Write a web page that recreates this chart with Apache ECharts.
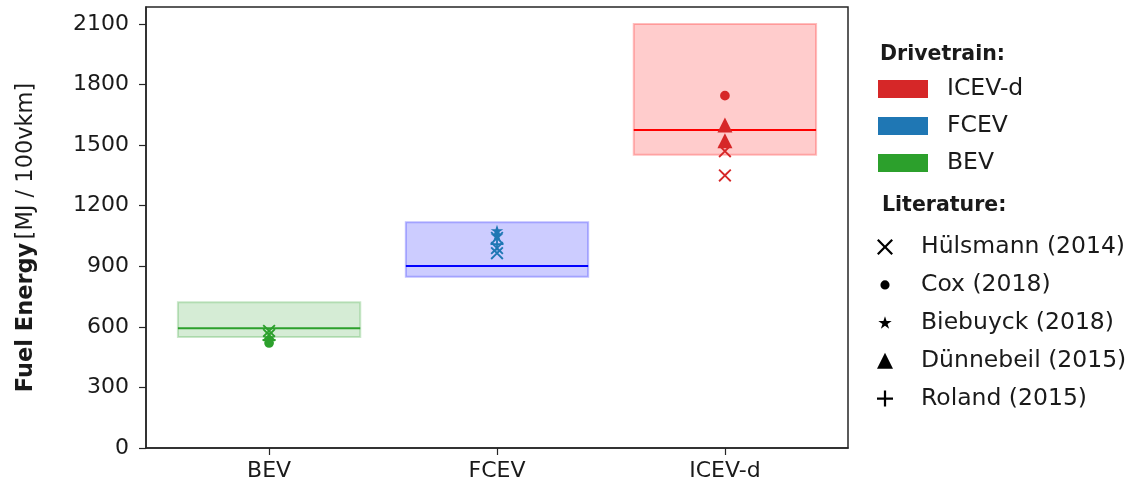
<!DOCTYPE html>
<html>
<head>
<meta charset="utf-8">
<script src="https://cdn.jsdelivr.net/npm/echarts@6/dist/echarts.min.js"></script>
<style>
  html, body { margin: 0; padding: 0; background: #fff; }
  #chart { width: 1139px; height: 490px; }
</style>
</head>
<body>
<div id="chart"></div>
<script>
// Drivetrains along the x axis
const categories = ['BEV', 'FCEV', 'ICEV-d'];
// Model range (low / high) and central estimate per drivetrain, MJ / 100vkm
const rangeLow = [550, 848, 1452];
const rangeHigh = [722, 1118, 2100];
const central = [593, 901, 1575];
// Literature values: [drivetrain index, MJ / 100vkm]
const huelsmann = [[0, 580], [0, 560], [1, 1040], [1, 990], [1, 965], [2, 1470], [2, 1350]];
const cox = [[0, 520], [2, 1745]];
const biebuyck = [[0, 545], [1, 1075], [1, 1050]];
const duennebeil = [[2, 1600], [2, 1522]];
const roland = [[0, 535], [1, 1010]];
const yTicks = [0, 300, 600, 900, 1200, 1500, 1800, 2100];

const FONT = 'DejaVu Sans';
const TEXT = '#1a1a1a';
const markColor = ['#2ca02c', '#1f77b4', '#d62728'];
const boxFill = ['rgba(44,160,44,0.2)', 'rgba(0,0,255,0.2)', 'rgba(255,0,0,0.2)'];
const boxEdge = ['rgba(44,160,44,0.25)', 'rgba(0,0,255,0.25)', 'rgba(255,0,0,0.25)'];
const lineColor = ['#2ca02c', '#0000ff', '#ff0000'];

// Marker shapes; the dot and star carry invisible corner points so they sit
// smaller inside their symbol box.
const SYM = {
  cross: 'path://M0,1 L1,0 L5,4 L9,0 L10,1 L6,5 L10,9 L9,10 L5,6 L1,10 L0,9 L4,5 Z',
  plus: 'path://M4.3,0 H5.7 V4.3 H10 V5.7 H5.7 V10 H4.3 V5.7 H0 V4.3 H4.3 Z',
  star: 'path://M0,0 L0.001,0 M12,12 L12.001,12 M6,1 L7.18,4.62 L11,4.62 L7.91,6.86 L9.09,10.5 L6,8.24 L2.91,10.5 L4.09,6.86 L1,4.62 L4.82,4.62 Z',
  dot: 'path://M0,0 L0.001,0 M14,14 L14.001,14 M7,3 A4,4 0 1,1 7,11 A4,4 0 1,1 7,3 Z'
};

function boxSeries(i) {
  return {
    name: categories[i],
    type: 'custom',
    z: 1,
    itemStyle: { color: markColor[i] },
    data: [[i, rangeLow[i], rangeHigh[i], central[i]]],
    renderItem: function (params, api) {
      const x = api.value(0);
      const p0 = api.coord([x - 0.4, api.value(2)]);
      const p1 = api.coord([x + 0.4, api.value(1)]);
      const m0 = api.coord([x - 0.4, api.value(3)]);
      const m1 = api.coord([x + 0.4, api.value(3)]);
      return {
        type: 'group',
        children: [
          { type: 'rect', shape: { x: p0[0], y: p0[1], width: p1[0] - p0[0], height: p1[1] - p0[1] },
            style: { fill: boxFill[i], stroke: boxEdge[i], lineWidth: 2 } },
          { type: 'line', shape: { x1: m0[0], y1: m0[1], x2: m1[0], y2: m1[1] },
            style: { stroke: lineColor[i], lineWidth: 2 } }
        ]
      };
    }
  };
}

function litSeries(name, pts, symbol, size) {
  return {
    name: name,
    type: 'scatter',
    z: 3,
    symbol: symbol,
    symbolSize: size,
    itemStyle: { color: '#000', opacity: 1 },
    data: pts.map(p => ({ value: p, itemStyle: { color: markColor[p[0]] } }))
  };
}

const chart = echarts.init(document.getElementById('chart'), null, { renderer: 'canvas' });
chart.setOption({
  animation: false,
  backgroundColor: '#fff',
  grid: { left: 146, right: 291, top: 7, bottom: 42, show: true, borderColor: '#262626', borderWidth: 1.5 },
  xAxis: {
    type: 'value', min: -0.54, max: 2.54,
    splitLine: { show: false },
    axisLine: { show: true, onZero: false, lineStyle: { color: '#262626', width: 1.5 } },
    axisTick: { show: true, customValues: [0, 1, 2], length: 7, lineStyle: { color: '#262626', width: 1.2 } },
    axisLabel: {
      customValues: [0, 1, 2], formatter: v => categories[Math.round(v)],
      fontFamily: FONT, fontSize: 22, color: TEXT, margin: 12
    }
  },
  yAxis: {
    type: 'value', min: 0, max: 2184,
    splitLine: { show: false },
    axisLine: { show: true, onZero: false, lineStyle: { color: '#262626', width: 1.5 } },
    axisTick: { show: true, customValues: yTicks, length: 7, lineStyle: { color: '#262626', width: 1.2 } },
    axisLabel: {
      customValues: yTicks, formatter: v => String(v),
      fontFamily: FONT, fontSize: 22, color: TEXT, margin: 17
    },
    name: '{b|Fuel Energy} {n|[MJ / 100vkm]}',
    nameLocation: 'middle', nameRotate: 90, nameGap: 108,
    nameTextStyle: {
      padding: [0, 20, 0, 0],
      rich: {
        b: { fontFamily: FONT, fontSize: 22.5, fontWeight: 'bold', color: TEXT },
        n: { fontFamily: FONT, fontSize: 22.5, color: TEXT }
      }
    }
  },
  legend: [
    {
      orient: 'vertical', left: 873, top: 72,
      itemWidth: 50, itemHeight: 18, itemGap: 13,
      data: [{ name: 'ICEV-d', icon: 'rect' }, { name: 'FCEV', icon: 'rect' }, { name: 'BEV', icon: 'rect' }],
      textStyle: { fontFamily: FONT, fontSize: 23.5, lineHeight: 20, color: TEXT, padding: [0, 0, 0, 14] },
      selectedMode: false
    },
    {
      orient: 'vertical', left: 872, top: 230,
      itemWidth: 16, itemHeight: 16, itemGap: 13.9,
      data: ['Hülsmann (2014)', 'Cox (2018)', 'Biebuyck (2018)', 'Dünnebeil (2015)', 'Roland (2015)'],
      textStyle: { fontFamily: FONT, fontSize: 23.5, lineHeight: 20, color: TEXT, padding: [0, 0, 0, 23] },
      selectedMode: false
    }
  ],
  title: [
    { text: 'Drivetrain:', left: 880, top: 44, padding: 0,
      textStyle: { fontFamily: FONT, fontSize: 20.5, fontWeight: 'bold', color: TEXT } },
    { text: 'Literature:', left: 882, top: 195, padding: 0,
      textStyle: { fontFamily: FONT, fontSize: 20.5, fontWeight: 'bold', color: TEXT } }
  ],
  series: [
    boxSeries(2), boxSeries(1), boxSeries(0),
    litSeries('Hülsmann (2014)', huelsmann, SYM.cross, 13),
    litSeries('Cox (2018)', cox, SYM.dot, 17),
    litSeries('Biebuyck (2018)', biebuyck, SYM.star, 15),
    litSeries('Dünnebeil (2015)', duennebeil, 'triangle', 15),
    litSeries('Roland (2015)', roland, SYM.plus, 13)
  ]
});
</script>
</body>
</html>
